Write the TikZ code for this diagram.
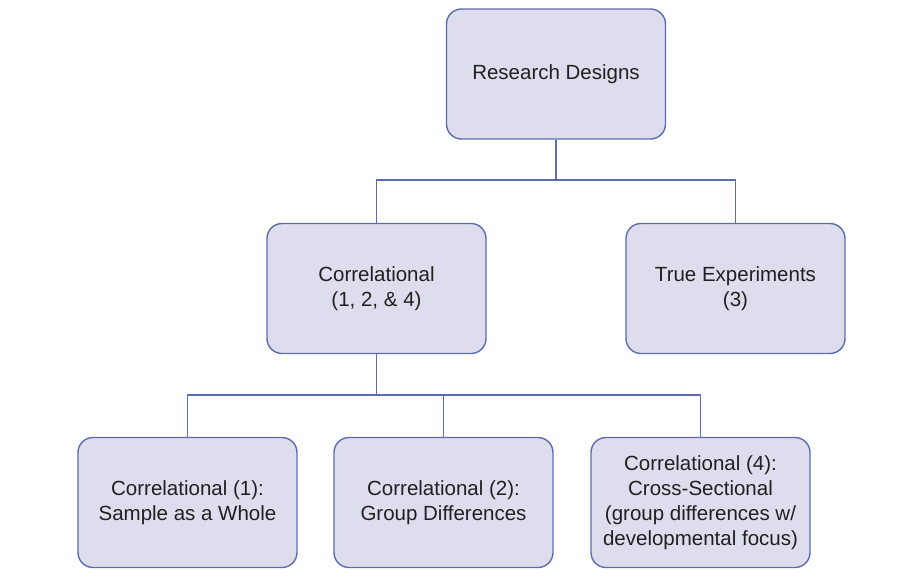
\documentclass[tikz,border=0pt]{standalone}
\usepackage{fontspec}
\setmainfont{Liberation Sans}
\begin{document}
\begin{tikzpicture}[x=1pt,y=-1pt,
  box/.style={draw=boxline, fill=boxfill, line width=1.4pt, rounded corners=15pt,
    minimum width=219pt, minimum height=130pt, align=center, text=txt,
    font=\fontsize{20.5}{25}\selectfont, inner sep=2pt},
  conn/.style={draw=boxline, line width=1.1pt}]
\definecolor{boxline}{HTML}{5B6DB0}
\definecolor{boxfill}{HTML}{DEDDEE}
\definecolor{txt}{HTML}{231F20}
\useasboundingbox (0,0) rectangle (906,579);
\node[box] (root) at (556,74) {Research Designs};
\node[box] (corr) at (376.5,288.5) {Correlational\\(1, 2, \& 4)};
\node[box] (true) at (735.5,288.5) {True Experiments\\(3)};
\node[box] (b1) at (187.5,502.5) {Correlational (1):\\Sample as a Whole};
\node[box] (b2) at (443.5,502.5) {Correlational (2):\\Group Differences};
\node[box] (b3) at (700.5,502.5) {Correlational (4):\\Cross-Sectional\\(group differences w/\\developmental focus)};
\coordinate (j1) at (556,180);
\coordinate (j2) at (376.5,395);
\draw[conn] (root) -- (j1);
\draw[conn] (corr.north) |- (j1) -| (true.north);
\draw[conn] (corr) -- (j2);
\draw[conn] (b1.north) |- (j2) -| (b3.north);
\draw[conn] (b2.north) |- (j2);
\end{tikzpicture}
\end{document}
